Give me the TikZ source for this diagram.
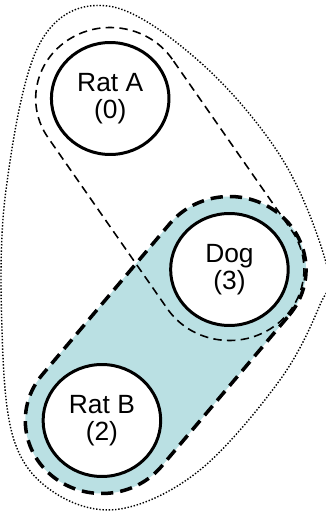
\documentclass[tikz,border=0pt]{standalone}
\usepackage{fontspec}
\setmainfont{Liberation Sans}
\usetikzlibrary{calc,shapes.geometric}
\definecolor{powderteal}{rgb}{0.73,0.88,0.89}
\tikzset{
  animal/.style={
    ellipse,
    draw=black,
    fill=white,
    line width=1.7pt,
    minimum width=2.352cm,
    minimum height=2.24cm,
    inner sep=0pt,
    align=center,
    font=\fontsize{15}{15.6}\selectfont
  },
  duo/.style={
    draw=black,
    line width=.9pt,
    dash pattern=on 4.8pt off 3pt
  },
  pack/.style={
    draw=black,
    fill=powderteal,
    line width=2pt,
    dash pattern=on 7pt off 4pt
  },
  herd/.style={
    draw=black,
    line width=.8pt,
    dash pattern=on .8pt off 1pt
  }
}

\begin{document}
\begin{tikzpicture}[x=0.021cm, y=0.02cm]
\useasboundingbox (0,0) rectangle (310.48,512);
\coordinate (pa) at (105,413.5);
\coordinate (pd) at (218.6,242.5);
\coordinate (pb) at (97.1,91.5);
% everybody
\draw[herd] plot[smooth cycle, tension=.6] coordinates {
  (102.9,506) (190.5,450) (269.5,352) (312,244) (304.8,207) (266.7,132)
  (190.5,42) (114.3,3) (52.4,19) (13.3,72) (1.9,182) (5.7,322) (38.1,469)};
% dog and rat B, angle -128.8
\draw[pack] ($(pd)+(-38.8:73)$) arc[start angle=-38.8, end angle=141.2, radius=73]
  -- ($(pb)+(141.2:73)$) arc[start angle=141.2, end angle=321.2, radius=73] -- cycle;
% rat A and dog, angle -56.4
\draw[duo] ($(pa)+(33.6:71)$) arc[start angle=33.6, end angle=213.6, radius=71]
  -- ($(pd)+(213.6:71)$) arc[start angle=213.6, end angle=393.6, radius=71] -- cycle;
\node[animal] (ratA) at (pa) {Rat A\\(0)};
\node[animal] (dog) at (pd) {Dog\\(3)};
\node[animal] (ratB) at (pb) {Rat B\\(2)};
\end{tikzpicture}
\end{document}
